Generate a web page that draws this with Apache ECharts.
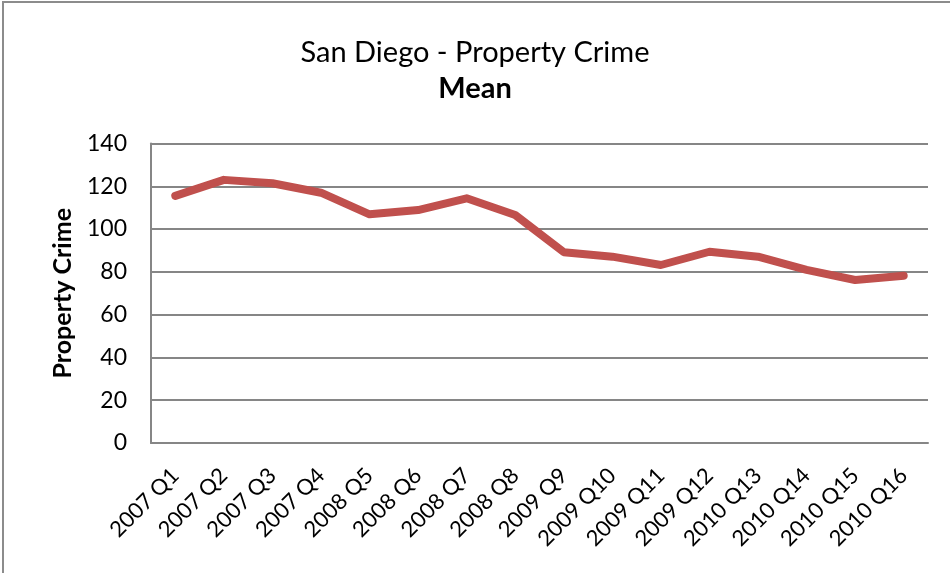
<!DOCTYPE html>
<html>
<head>
<meta charset="utf-8">
<script src="https://cdn.jsdelivr.net/npm/echarts@6/dist/echarts.min.js"></script>
<style>
  html, body { margin: 0; padding: 0; background: #fff; }
  #chart { width: 950px; height: 573px; }
</style>
</head>
<body>
<div id="chart"></div>
<script>
const quarters = [
  "2007 Q1", "2007 Q2", "2007 Q3", "2007 Q4",
  "2008 Q5", "2008 Q6", "2008 Q7", "2008 Q8",
  "2009 Q9", "2009 Q10", "2009 Q11", "2009 Q12",
  "2010 Q13", "2010 Q14", "2010 Q15", "2010 Q16"
];
const meanValues = [
  115.5, 123, 121.4, 117,
  106.9, 108.9, 114.4, 106.6,
  89.2, 87.1, 83.2, 89.4,
  87.1, 80.9, 76.2, 78.2
];

const chart = echarts.init(document.getElementById("chart"));

chart.setOption({
  animation: false,
  textStyle: { fontFamily: "Lato" },
  graphic: [
    {
      type: "rect",
      shape: { x: 3, y: 2, width: 960, height: 590 },
      style: { fill: "none", stroke: "#8c8c8c", lineWidth: 2 }
    },
    {
      type: "text",
      left: "center",
      top: 38,
      style: { text: "San Diego - Property Crime", font: "29px Lato", fill: "#000" }
    },
    {
      type: "text",
      left: "center",
      top: 74,
      style: { text: "Mean", font: "bold 29px Lato", fill: "#000" }
    }
  ],
  grid: { left: 151, right: 22, top: 143.5, bottom: 130 },
  xAxis: {
    type: "category",
    data: quarters,
    boundaryGap: true,
    axisLine: { lineStyle: { color: "#868686", width: 2 } },
    axisTick: { show: false },
    axisLabel: {
      rotate: 45,
      interval: 0,
      color: "#000",
      fontSize: 22,
      fontFamily: "Lato",
      margin: 29
    }
  },
  yAxis: {
    type: "value",
    min: 0,
    max: 140,
    interval: 20,
    name: "Property Crime",
    nameLocation: "middle",
    nameGap: 76,
    nameTextStyle: { fontSize: 25, fontWeight: "bold", color: "#000", fontFamily: "Lato" },
    axisLine: { show: true, lineStyle: { color: "#868686", width: 2 } },
    axisTick: { show: false },
    axisLabel: { color: "#000", fontSize: 23, fontFamily: "Lato", margin: 24 },
    splitLine: { lineStyle: { color: "#868686", width: 2 } }
  },
  series: [
    {
      type: "line",
      data: meanValues,
      symbol: "none",
      lineStyle: { color: "#c0504d", width: 8, cap: "round", join: "round" }
    }
  ]
});
</script>
</body>
</html>
